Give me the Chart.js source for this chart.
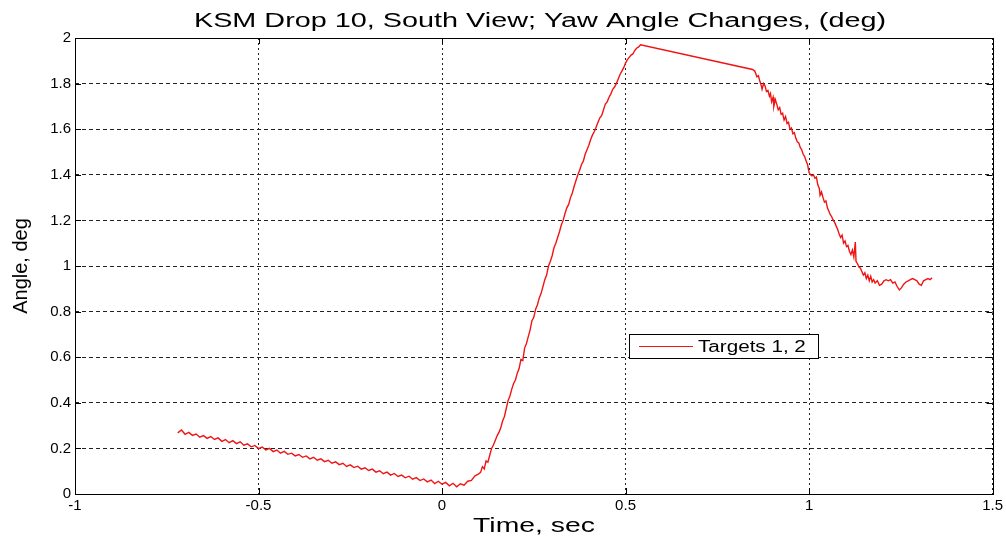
<!DOCTYPE html>
<html>
<head>
<meta charset="utf-8">
<script src="https://cdn.jsdelivr.net/npm/chart.js@4"></script>
<style>
  html, body { margin: 0; padding: 0; background: #fff; }
  canvas { display: block; }
</style>
</head>
<body>
<canvas id="yawChart" width="1006" height="537"></canvas>
<script>
const chartTitle = 'KSM Drop 10, South View; Yaw Angle Changes, (deg)';
const xTitle = 'Time, sec';
const yTitle = 'Angle, deg';
const seriesLabel = 'Targets 1, 2';

// time (sec)
const times = [
  -0.72, -0.71, -0.70, -0.69, -0.68, -0.67, -0.66, -0.65, -0.64, -0.63,
  -0.62, -0.61, -0.60, -0.59, -0.58, -0.57, -0.56, -0.55, -0.54, -0.53,
  -0.52, -0.51, -0.50, -0.49, -0.48, -0.47, -0.46, -0.45, -0.44, -0.43,
  -0.42, -0.41, -0.40, -0.39, -0.38, -0.37, -0.36, -0.35, -0.34, -0.33,
  -0.32, -0.31, -0.30, -0.29, -0.28, -0.27, -0.26, -0.25, -0.24, -0.23,
  -0.22, -0.21, -0.20, -0.19, -0.18, -0.17, -0.16, -0.15, -0.14, -0.13,
  -0.12, -0.11, -0.10, -0.09, -0.08, -0.07, -0.06, -0.05, -0.04, -0.03,
  -0.02, -0.01, 0.00, 0.01, 0.02, 0.03, 0.04, 0.05, 0.06, 0.07,
  0.08, 0.09,
  0.100, 0.105, 0.110, 0.115, 0.120, 0.125, 0.130, 0.135, 0.140, 0.145,
  0.150, 0.155, 0.160, 0.165, 0.170, 0.175, 0.180, 0.185, 0.190, 0.195,
  0.200, 0.205, 0.210, 0.215, 0.220, 0.225, 0.230, 0.235, 0.240, 0.245,
  0.250, 0.255, 0.260, 0.265, 0.270, 0.275, 0.280, 0.285, 0.290, 0.295,
  0.300, 0.305, 0.310, 0.315, 0.320, 0.325, 0.330, 0.335, 0.340, 0.345,
  0.350, 0.355, 0.360, 0.365, 0.370, 0.375, 0.380, 0.385, 0.390, 0.395,
  0.400, 0.405, 0.410, 0.415, 0.420, 0.425, 0.430, 0.435, 0.440, 0.445,
  0.450, 0.455, 0.460, 0.465, 0.470, 0.475, 0.480, 0.485, 0.490, 0.495,
  0.500, 0.505, 0.510, 0.515, 0.520, 0.525, 0.530, 0.535, 0.541,
  0.846, 0.852, 0.858, 0.862, 0.866, 0.870, 0.872, 0.876, 0.880, 0.884,
  0.888, 0.892, 0.895, 0.898, 0.902, 0.904, 0.908, 0.912, 0.916, 0.920,
  0.924, 0.928, 0.932, 0.936, 0.940, 0.944, 0.948, 0.952, 0.956, 0.960,
  0.964, 0.968, 0.972, 0.976, 0.980, 0.984, 0.988, 0.992, 0.996, 1.000,
  1.004, 1.008, 1.012, 1.016, 1.020, 1.024, 1.028, 1.030, 1.034, 1.038,
  1.042, 1.046, 1.050, 1.054, 1.058, 1.062, 1.066, 1.070, 1.074, 1.078,
  1.082, 1.086, 1.090, 1.094, 1.098, 1.102, 1.106, 1.110, 1.114, 1.118,
  1.122, 1.126, 1.128, 1.132, 1.136, 1.140, 1.144, 1.148, 1.152, 1.156,
  1.160, 1.164, 1.168, 1.172, 1.176, 1.180, 1.186, 1.192, 1.198, 1.204,
  1.210, 1.216, 1.222, 1.228, 1.234, 1.240, 1.246, 1.252, 1.258, 1.264,
  1.270, 1.276, 1.282, 1.288, 1.294, 1.300, 1.306, 1.312, 1.318, 1.324,
  1.330, 1.335
];

// yaw angle (deg), same order as times
const angles = [
  0.268, 0.281, 0.262, 0.270, 0.257, 0.263, 0.249, 0.256, 0.244, 0.252,
  0.239, 0.246, 0.231, 0.239, 0.225, 0.234, 0.221, 0.229, 0.214, 0.220,
  0.207, 0.213, 0.199, 0.206, 0.193, 0.200, 0.186, 0.193, 0.179, 0.187,
  0.174, 0.179, 0.167, 0.173, 0.161, 0.167, 0.154, 0.161, 0.148, 0.154,
  0.142, 0.148, 0.135, 0.141, 0.129, 0.135, 0.121, 0.128, 0.116, 0.122,
  0.109, 0.115, 0.103, 0.109, 0.096, 0.102, 0.089, 0.096, 0.083, 0.090,
  0.077, 0.083, 0.071, 0.078, 0.065, 0.072, 0.059, 0.066, 0.053, 0.061,
  0.046, 0.056, 0.043, 0.051, 0.036, 0.047, 0.032, 0.045, 0.039, 0.056,
  0.060, 0.080,
  0.088, 0.095, 0.120, 0.110, 0.145, 0.140, 0.170, 0.200, 0.215, 0.235,
  0.255, 0.270, 0.290, 0.320, 0.340, 0.375, 0.410, 0.430, 0.460, 0.485,
  0.500, 0.530, 0.550, 0.590, 0.585, 0.640, 0.660, 0.690, 0.720, 0.760,
  0.775, 0.810, 0.830, 0.860, 0.880, 0.910, 0.940, 0.960, 1.000, 1.020,
  1.045, 1.080, 1.100, 1.125, 1.150, 1.180, 1.200, 1.230, 1.255, 1.270,
  1.300, 1.320, 1.350, 1.375, 1.400, 1.420, 1.445, 1.460, 1.490, 1.510,
  1.530, 1.555, 1.575, 1.590, 1.610, 1.630, 1.650, 1.660, 1.685, 1.710,
  1.720, 1.740, 1.755, 1.775, 1.785, 1.800, 1.820, 1.840, 1.855, 1.870,
  1.890, 1.905, 1.915, 1.925, 1.930, 1.945, 1.955, 1.960, 1.970,
  1.862, 1.855, 1.830, 1.835, 1.810, 1.790, 1.775, 1.800, 1.790, 1.765,
  1.770, 1.745, 1.757, 1.720, 1.740, 1.700, 1.730, 1.710, 1.685, 1.695,
  1.665, 1.670, 1.640, 1.655, 1.625, 1.630, 1.600, 1.605, 1.580, 1.585,
  1.560, 1.545, 1.540, 1.520, 1.510, 1.490, 1.480, 1.460, 1.445, 1.410,
  1.400, 1.395, 1.400, 1.385, 1.390, 1.355, 1.340, 1.310, 1.325, 1.300,
  1.280, 1.285, 1.255, 1.240, 1.225, 1.215, 1.200, 1.190, 1.175, 1.160,
  1.140, 1.125, 1.135, 1.100, 1.110, 1.085, 1.090, 1.065, 1.050, 1.070,
  1.040, 1.105, 1.020, 1.010, 0.995, 0.990, 0.975, 0.960, 0.970, 0.945,
  0.960, 0.935, 0.955, 0.930, 0.940, 0.925, 0.935, 0.915, 0.920, 0.935,
  0.940, 0.935, 0.940, 0.925, 0.930, 0.910, 0.895, 0.905, 0.920, 0.930,
  0.935, 0.940, 0.945, 0.940, 0.935, 0.920, 0.915, 0.935, 0.940, 0.945,
  0.940, 0.948
];

const xMin = -1, xMax = 1.5, xStep = 0.5;
const yMin = 0, yMax = 2, yStep = 0.2;

const points = times.map((t, i) => ({ x: t, y: angles[i] }));
const fontFamily = '"Liberation Sans", Arial, sans-serif';

// MATLAB style labels: 2 not 2.0, 0.4 not 0.40000001
function shortLabel(value) {
    return String(Math.round(value * 10) / 10);
}

// stretched text, the figure's labels are wider than plain Arial
function wideText(ctx, text, x, y, sx) {
    ctx.save();
    ctx.translate(x, y);
    ctx.scale(sx, 1);
    ctx.fillText(text, 0, 0);
    ctx.restore();
}

const matlabFrame = {
    id: 'matlabFrame',
    afterDraw(chart) {
        const ctx = chart.ctx;
        const a = chart.chartArea;
        const sx = chart.scales.x, sy = chart.scales.y;
        ctx.save();
        ctx.strokeStyle = '#000';
        ctx.lineWidth = 1;
        ctx.setLineDash([]);
        ctx.strokeRect(Math.round(a.left) + 0.5, Math.round(a.top) + 0.5,
            Math.round(a.right - a.left), Math.round(a.bottom - a.top));

        // inward tick marks
        ctx.beginPath();
        sx.ticks.forEach(t => {
            const px = Math.round(sx.getPixelForValue(t.value)) + 0.5;
            ctx.moveTo(px, a.bottom); ctx.lineTo(px, a.bottom - 6);
            ctx.moveTo(px, a.top); ctx.lineTo(px, a.top + 6);
        });
        sy.ticks.forEach(t => {
            const py = Math.round(sy.getPixelForValue(t.value)) + 0.5;
            ctx.moveTo(a.left, py); ctx.lineTo(a.left + 6, py);
            ctx.moveTo(a.right, py); ctx.lineTo(a.right - 6, py);
        });
        ctx.stroke();

        // titles
        ctx.fillStyle = '#000';
        ctx.textAlign = 'center';
        ctx.textBaseline = 'alphabetic';
        ctx.font = '20px ' + fontFamily;
        wideText(ctx, chartTitle, 540, 27, 1.44);
        ctx.font = '21px ' + fontFamily;
        wideText(ctx, xTitle, 534, 532, 1.35);
        ctx.save();
        ctx.translate(27, 266);
        ctx.rotate(-Math.PI / 2);
        ctx.font = '20px ' + fontFamily;
        ctx.fillText(yTitle, 0, 0);
        ctx.restore();

        // legend box
        const lx = a.left + 554, ly = a.top + 296;
        ctx.fillStyle = '#fff';
        ctx.fillRect(lx, ly, 189, 24);
        ctx.strokeStyle = '#000';
        ctx.strokeRect(lx + 0.5, ly + 0.5, 189, 24);
        ctx.strokeStyle = chart.data.datasets[0].borderColor;
        ctx.beginPath();
        ctx.moveTo(lx + 10, ly + 12.5);
        ctx.lineTo(lx + 64, ly + 12.5);
        ctx.stroke();
        ctx.fillStyle = '#000';
        ctx.textAlign = 'left';
        ctx.font = '16px ' + fontFamily;
        wideText(ctx, chart.data.datasets[0].label, lx + 69, ly + 18, 1.29);
        ctx.restore();
    }
};

const yawChart = new Chart(document.getElementById('yawChart').getContext('2d'), {
    type: 'line',
    data: {
        datasets: [{
            label: seriesLabel,
            data: points,
            borderColor: 'rgb(240, 20, 20)',
            borderWidth: 1.4,
            pointRadius: 0,
            tension: 0,
            fill: false
        }]
    },
    options: {
        responsive: false,
        animation: false,
        layout: { padding: { top: 38, right: 10, left: 0, bottom: 0 } },
        plugins: {
            legend: { display: false },
            title: { display: false },
            tooltip: { enabled: false }
        },
        scales: {
            x: {
                type: 'linear',
                min: xMin,
                max: xMax,
                afterFit(scale) { scale.height = 43; },
                ticks: {
                    stepSize: xStep,
                    autoSkip: false,
                    maxRotation: 0,
                    padding: 3,
                    color: '#000',
                    font: { family: fontFamily, size: 15 },
                    callback: shortLabel
                },
                grid: { color: '#222', lineWidth: 1, drawTicks: false },
                border: { display: false, dash: [2, 3] }
            },
            y: {
                type: 'linear',
                min: yMin,
                max: yMax,
                afterFit(scale) { scale.width = 75; },
                ticks: {
                    stepSize: yStep,
                    autoSkip: false,
                    padding: 4,
                    color: '#000',
                    font: { family: fontFamily, size: 15 },
                    callback: shortLabel
                },
                grid: { color: '#222', lineWidth: 1, drawTicks: false },
                border: { display: false, dash: [4, 3] }
            }
        }
    },
    plugins: [matlabFrame]
});
</script>
</body>
</html>
